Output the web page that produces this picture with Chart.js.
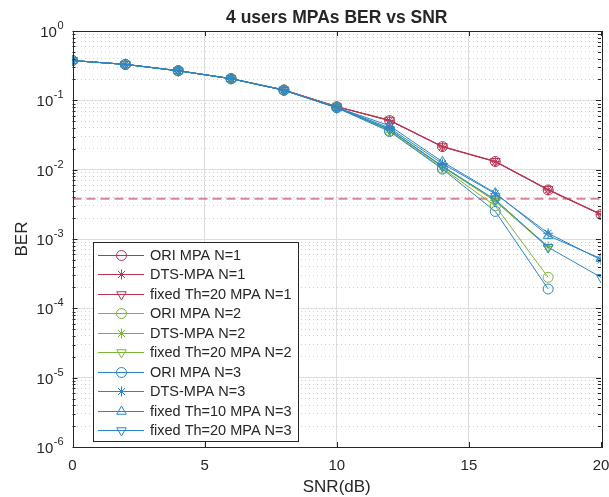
<!DOCTYPE html>
<html>
<head>
<meta charset="utf-8">
<script src="https://cdn.jsdelivr.net/npm/chart.js@4/dist/chart.umd.min.js"></script>
<style>
html,body{margin:0;padding:0;background:#fff;}
#wrap{width:609px;height:497px;position:relative;}
</style>
</head>
<body>
<div id="wrap"><canvas id="c" width="609" height="497"></canvas></div>
<script>
// ---- data ----
const snr = [0, 2, 4, 6, 8, 10, 12, 14, 16, 18, 20];
const xTicks = [0, 5, 10, 15, 20];
const yDecades = [0, -1, -2, -3, -4, -5, -6];
const threshold = 0.0038;

const oriN1  = [0.375, 0.330, 0.268, 0.206, 0.141, 0.081, 0.051, 0.0215, 0.0131, 0.0051, 0.00226];
const dtsN1  = [0.374, 0.330, 0.267, 0.205, 0.141, 0.081, 0.051, 0.0213, 0.0130, 0.0051, 0.00224];
const th20N1 = [0.375, 0.331, 0.268, 0.206, 0.142, 0.081, 0.052, 0.0216, 0.0132, 0.0052, 0.00228];
const oriN2  = [0.375, 0.330, 0.267, 0.205, 0.140, 0.079, 0.0365, 0.0105, 0.0030, 0.00028];
const dtsN2  = [0.375, 0.330, 0.267, 0.205, 0.140, 0.079, 0.0380, 0.0112, 0.0036, 0.00078];
const th20N2 = [0.375, 0.330, 0.267, 0.205, 0.140, 0.079, 0.0375, 0.0110, 0.0035, 0.00075];
const oriN3  = [0.375, 0.330, 0.267, 0.205, 0.140, 0.078, 0.0355, 0.0102, 0.0025, 0.00019];
const dtsN3  = [0.375, 0.330, 0.267, 0.205, 0.140, 0.079, 0.0400, 0.0122, 0.0045, 0.00121, 0.00050];
const th10N3 = [0.375, 0.330, 0.267, 0.205, 0.140, 0.079, 0.0430, 0.0130, 0.0046, 0.00112, 0.00052];
const th20N3 = [0.375, 0.330, 0.267, 0.205, 0.140, 0.078, 0.0380, 0.0112, 0.0037, 0.00076, 0.00028];

const seriesNames = [
  'ORI MPA N=1', 'DTS-MPA N=1', 'fixed Th=20 MPA N=1',
  'ORI MPA N=2', 'DTS-MPA N=2', 'fixed Th=20 MPA N=2',
  'ORI MPA N=3', 'DTS-MPA N=3', 'fixed Th=10 MPA N=3', 'fixed Th=20 MPA N=3'
];
const seriesValues = [oriN1, dtsN1, th20N1, oriN2, dtsN2, th20N2, oriN3, dtsN3, th10N3, th20N3];
// ---- styles ----
const RED = '#B83452', GREEN = '#7DB43A', BLUE = '#2A86C8';
const seriesColors = [RED, RED, RED, GREEN, GREEN, GREEN, BLUE, BLUE, BLUE, BLUE];
const seriesMarkers = ['circle', 'star', 'tdown', 'circle', 'star', 'tdown', 'circle', 'star', 'tup', 'tdown'];
const FONT = '"Liberation Sans", Arial, Helvetica, sans-serif';
const TXT = '#262626';
const NONE = 'rgba(0,0,0,0)';

function pts(vals) { return vals.map((v, i) => ({x: snr[i], y: v})); }

const datasets = seriesValues.map((vals, i) => {
  const m = seriesMarkers[i];
  return {
    label: seriesNames[i],
    data: pts(vals),
    borderColor: seriesColors[i],
    backgroundColor: NONE,
    borderWidth: 1,
    pointStyle: m === 'tdown' || m === 'tup' ? 'triangle' : m,
    rotation: m === 'tdown' ? 180 : 0,
    pointRadius: m === 'star' ? 5 : (m === 'circle' ? 5 : 5.5),
    pointBorderWidth: 1,
    pointBorderColor: seriesColors[i],
    pointBackgroundColor: NONE,
    tension: 0,
    order: 20 - i
  };
});
datasets.push({
  label: 'threshold',
  data: [{x: 0, y: threshold}, {x: 20, y: threshold}],
  borderColor: 'rgba(201,92,118,0.75)',
  borderWidth: 2,
  borderDash: [9, 5],
  pointRadius: 0,
  order: 30
});

const minorVals = [];
for (let e = -6; e <= 0; e++) {
  for (let s = 1; s <= 9; s++) {
    const v = s * Math.pow(10, e);
    if (v <= 1.0000001) minorVals.push(parseFloat(v.toPrecision(3)));
  }
}
function isMajor(v) { const l = Math.log10(v); return Math.abs(l - Math.round(l)) < 1e-6; }

const frame = {
  id: 'frame',
  afterDatasetsDraw(chart) {
    const {ctx, chartArea: a, scales} = chart;
    const xs = scales.x, ys = scales.y;
    ctx.save();
    // inward ticks
    ctx.strokeStyle = TXT;
    ctx.lineWidth = 1;
    ctx.beginPath();
    ys.ticks.forEach(t => {
      const y = Math.round(ys.getPixelForValue(t.value)) + 0.5;
      const len = isMajor(t.value) ? 5 : 3;
      ctx.moveTo(a.left, y); ctx.lineTo(a.left + len, y);
      ctx.moveTo(a.right, y); ctx.lineTo(a.right - len, y);
    });
    xTicks.forEach(v => {
      const x = Math.round(xs.getPixelForValue(v)) + 0.5;
      ctx.moveTo(x, a.bottom); ctx.lineTo(x, a.bottom - 5);
      ctx.moveTo(x, a.top); ctx.lineTo(x, a.top + 5);
    });
    ctx.stroke();
    // box
    ctx.strokeRect(Math.round(a.left) + 0.5, Math.round(a.top) + 0.5,
                   Math.round(a.right - a.left), Math.round(a.bottom - a.top));

    // legend
    const lx = 93, ly = 242, lw = 205, lh = 199;
    ctx.fillStyle = '#fff';
    ctx.fillRect(lx, ly, lw, lh);
    ctx.strokeStyle = TXT;
    ctx.strokeRect(lx + 0.5, ly + 0.5, lw, lh);
    for (let i = 0; i < seriesNames.length; i++) {
      const cy = Math.round(254.5 + i * 19.55) + 0.5;
      const col = seriesColors[i];
      ctx.strokeStyle = col;
      ctx.fillStyle = NONE;
      ctx.lineWidth = 1;
      ctx.setLineDash([]);
      ctx.beginPath();
      ctx.moveTo(98, cy); ctx.lineTo(144, cy);
      ctx.stroke();
      const ds = chart.data.datasets[i];
      ctx.strokeStyle = col;
      ctx.fillStyle = NONE;
      Chart.helpers.drawPoint(ctx, {
        pointStyle: ds.pointStyle, rotation: ds.rotation, radius: ds.pointRadius, borderWidth: 1
      }, 121.5, cy);
      ctx.font = '14.5px ' + FONT;
      ctx.textBaseline = 'middle';
      ctx.textAlign = 'left';
      ctx.fillStyle = TXT;
      ctx.fillText(seriesNames[i], 150, cy + 0.5);
    }

    // y tick labels 10^n
    ctx.fillStyle = TXT;
    yDecades.forEach(e => {
      const y = ys.getPixelForValue(Math.pow(10, e));
      const expStr = String(e);
      ctx.font = '11px ' + FONT;
      const ew = ctx.measureText(expStr).width;
      const ex = 63.5 - ew;
      ctx.textAlign = 'left';
      ctx.textBaseline = 'middle';
      ctx.fillText(expStr, ex, y - 5);
      ctx.font = '15px ' + FONT;
      ctx.textAlign = 'right';
      ctx.fillText('10', ex - 0.5, y + 2);
    });
    // x tick labels
    ctx.font = '15px ' + FONT;
    ctx.textAlign = 'center';
    ctx.textBaseline = 'middle';
    xTicks.forEach(v => {
      ctx.fillText(String(v), xs.getPixelForValue(v), 466);
    });
    // axis titles
    ctx.font = '17px ' + FONT;
    ctx.fillText('SNR(dB)', (a.left + a.right) / 2, 487);
    ctx.save();
    ctx.translate(22, (a.top + a.bottom) / 2);
    ctx.rotate(-Math.PI / 2);
    ctx.fillText('BER', 0, 0);
    ctx.restore();
    // title
    ctx.font = 'bold 17.5px ' + FONT;
    ctx.fillText('4 users MPAs BER vs SNR', (a.left + a.right) / 2, 18);
    ctx.restore();
  }
};

new Chart(document.getElementById('c'), {
  type: 'line',
  data: {datasets},
  options: {
    responsive: false,
    animation: false,
    events: [],
    layout: {padding: {left: 0, right: 8, top: 31, bottom: 0}},
    plugins: {legend: {display: false}, title: {display: false}, tooltip: {enabled: false}},
    scales: {
      x: {
        type: 'linear', min: 0, max: 20,
        afterBuildTicks: s => { s.ticks = xTicks.map(v => ({value: v})); },
        afterFit: s => { s.height = 50; },
        ticks: {display: false},
        grid: {color: ctx => (ctx.tick && (ctx.tick.value === 0 || ctx.tick.value === 20)) ? NONE : '#DEDEDE', lineWidth: 1, drawTicks: false},
        border: {display: false}
      },
      y: {
        type: 'logarithmic', min: 1e-6, max: 1,
        afterBuildTicks: s => { s.ticks = minorVals.map(v => ({value: v})); },
        afterFit: s => { s.width = 72.5; },
        ticks: {display: false},
        grid: {
          color: ctx => {
            if (!ctx.tick) return '#DEDEDE';
            const v = ctx.tick.value;
            if (v >= 0.999 || v <= 1.0001e-6) return NONE;
            return isMajor(v) ? '#DEDEDE' : '#CFCFCF';
          },
          lineWidth: 1, drawTicks: false
        },
        border: {display: false, dash: ctx => (ctx.tick && !isMajor(ctx.tick.value)) ? [1, 3] : []}
      }
    }
  },
  plugins: [frame]
});
</script>
</body>
</html>
